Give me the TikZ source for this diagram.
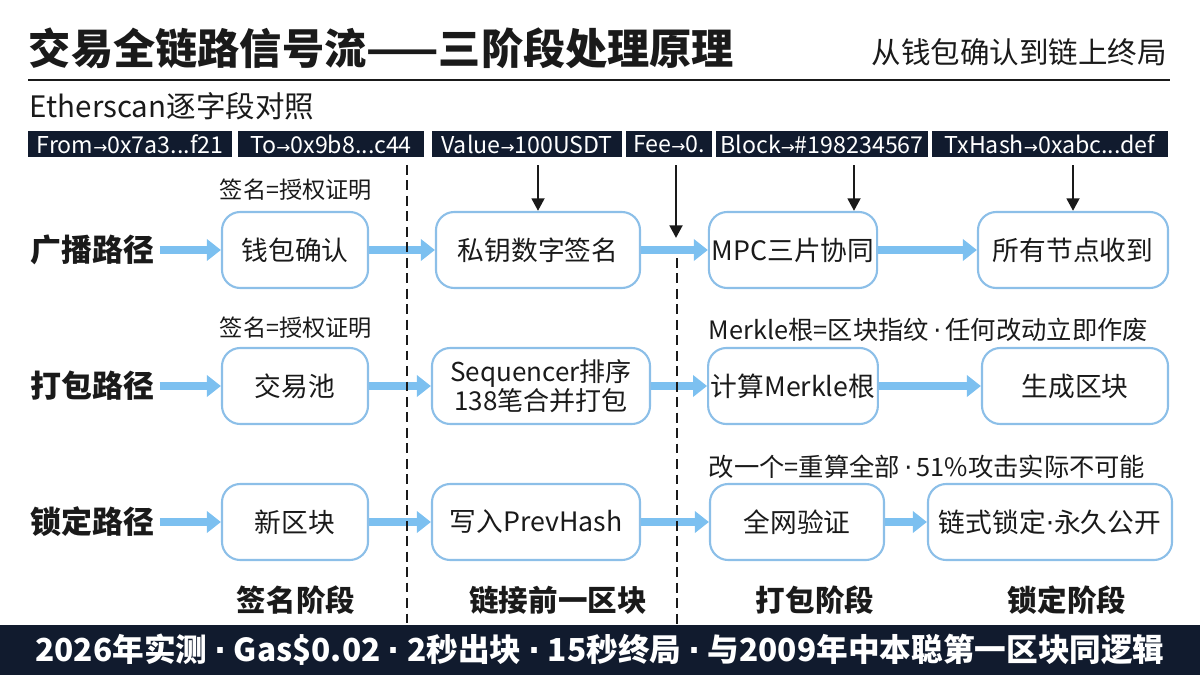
\documentclass[tikz,border=0pt]{standalone}
\usepackage{fontspec}
\setmainfont{Noto Sans CJK SC}
\newfontfamily\symfont{DejaVu Sans}
\usetikzlibrary{arrows.meta, positioning, calc}
\definecolor{cnavy}{HTML}{111B2E}
\definecolor{cline}{HTML}{8CBFE8}
\definecolor{cflow}{HTML}{7CC0F0}
\definecolor{cink}{HTML}{1A1A1A}
\newcommand{\ra}{{\symfont\fontsize{12}{14}\selectfont →}}
\newcommand{\md}{{\symfont ·}}
\tikzset{
  box/.style={draw=cline, fill=white, rounded corners=13pt, line width=1.5pt, align=center, minimum height=1.9cm, inner sep=2pt, font=\fontsize{19}{23}\selectfont, text=cink},
  tag/.style={fill=cnavy, text=white, minimum height=0.65cm, inner sep=0pt, font=\fontsize{16.5}{18}\selectfont},
  flow/.style={-{Triangle[length=10pt, width=15pt]}, draw=cflow, line width=5.5pt},
  down/.style={-{Triangle[length=9pt, width=9pt]}, draw=cink, line width=2pt},
  split/.style={draw=cink, line width=1.4pt, dash pattern=on 7pt off 4pt},
  rowlabel/.style={anchor=west, font=\fontsize{22}{26}\selectfont\bfseries, text=cink},
  stage/.style={font=\fontsize{21}{25}\selectfont\bfseries, text=cink},
  note/.style={font=\fontsize{16.5}{20}\selectfont, text=cink},
}
\begin{document}
\begin{tikzpicture}[x=0.025cm, y=-0.025cm]
  \useasboundingbox (0,0) rectangle (1200,675);
  % ---- heading ----
  \node[anchor=west, font=\fontsize{30}{34}\selectfont\bfseries, text=cink] (title) at (24,48) {交易全链路信号流——三阶段处理原理};
  \node[anchor=east, font=\fontsize{21}{25}\selectfont, text=cink] (subtitle) at (1172,52) {从钱包确认到链上终局};
  \draw[line width=1.8pt, cink] (28,80) -- (1170,80);
  \node[anchor=west, font=\fontsize{21}{25}\selectfont, text=cink] (scan) at (25,106) {Etherscan逐字段对照};
  % ---- etherscan fields ----
  \node[tag, minimum width=5.1cm] (tFrom) at (130,144) {From\ra0x7a3...f21};
  \node[tag, minimum width=4.65cm] (tTo) at (331,144) {To\ra0x9b8...c44};
  \node[tag, minimum width=4.75cm] (tValue) at (527,144) {Value\ra100USDT};
  \node[tag, minimum width=2.15cm] (tFee) at (669,144) {Fee\ra0.};
  \node[tag, minimum width=5.3cm] (tBlock) at (822,144) {Block\ra\#198234567};
  \node[tag, minimum width=5.9cm] (tTx) at (1050,144) {TxHash\ra0xabc...def};
  % ---- row 1: broadcast ----
  \node[rowlabel] (lab1) at (26,250) {广播路径};
  \node[box, minimum width=3.65cm] (r1b1) at (295,250) {钱包确认};
  \node[box, minimum width=5.1cm] (r1b2) at (538,250) {私钥数字签名};
  \node[box, minimum width=4.15cm] (r1b3) at (793,250) {MPC三片协同};
  \node[box, minimum width=4.75cm] (r1b4) at (1073,250) {所有节点收到};
  \node[note] (n1) at (296,190) {签名=授权证明};
  \draw[flow] (lab1) -- (r1b1); \draw[flow] (r1b1) -- (r1b2);
  \draw[flow] (r1b2) -- (r1b3); \draw[flow] (r1b3) -- (r1b4);
  % ---- row 2: packing ----
  \node[rowlabel] (lab2) at (26,386) {打包路径};
  \node[box, minimum width=3.65cm] (r2b1) at (295,386) {交易池};
  \node[box, minimum width=5.45cm, font=\fontsize{18.5}{21}\selectfont] (r2b2) at (541,386) {Sequencer排序\\138笔合并打包};
  \node[box, minimum width=4.15cm] (r2b3) at (793,386) {计算Merkle根};
  \node[box, minimum width=4.65cm] (r2b4) at (1075,386) {生成区块};
  \node[note] (n2) at (296,328) {签名=授权证明};
  \node[note, anchor=west, font=\fontsize{18}{20}\selectfont] (n3) at (704,330) {Merkle根=区块指纹\,\md\,任何改动立即作废};
  \draw[flow] (lab2) -- (r2b1); \draw[flow] (r2b1) -- (r2b2);
  \draw[flow] (r2b2) -- (r2b3); \draw[flow] (r2b3) -- (r2b4);
  % ---- row 3: locking ----
  \node[rowlabel] (lab3) at (26,522) {锁定路径};
  \node[box, minimum width=3.65cm] (r3b1) at (295,522) {新区块};
  \node[box, minimum width=5.2cm] (r3b2) at (536,522) {写入PrevHash};
  \node[box, minimum width=4.35cm] (r3b3) at (797,522) {全网验证};
  \node[box, minimum width=6.1cm] (r3b4) at (1050,522) {链式锁定\md 永久公开};
  \node[note, anchor=west, font=\fontsize{18}{20}\selectfont] (n4) at (704,467) {改一个=重算全部\,\md\,51\%攻击实际不可能};
  \draw[flow] (lab3) -- (r3b1); \draw[flow] (r3b1) -- (r3b2);
  \draw[flow] (r3b2) -- (r3b3); \draw[flow] (r3b3) -- (r3b4);
  % ---- field pointers ----
  \coordinate (feeTip) at (676,238);
  \coordinate (blockTip) at ($(r1b3.north)+(61,0)$);
  \draw[down] ($(tValue.south -| r1b2.north)+(0,8)$) -- (r1b2.north);
  \draw[down] ($(tFee.south -| feeTip)+(0,8)$) -- (feeTip);
  \draw[down] ($(tBlock.south -| blockTip)+(0,8)$) -- (blockTip);
  \draw[down] ($(tTx.south -| r1b4.north)+(0,8)$) -- (r1b4.north);
  % ---- stage separators ----
  \coordinate (sA1) at (407,165); \coordinate (sA2) at (407,625);
  \coordinate (sB1) at (677,258); \coordinate (sB2) at (677,625);
  \draw[split] (sA1) -- (sA2);
  \draw[split] (sB1) -- (sB2);
  \node[stage] (st1) at (296,600) {签名阶段};
  \node[stage] (st2) at (558,600) {链接前一区块};
  \node[stage] (st3) at (815,600) {打包阶段};
  \node[stage] (st4) at (1067,600) {锁定阶段};
  % ---- footer ----
  \fill[cnavy] (0,625) rectangle (1200,675);
  \node[font=\fontsize{22.5}{26}\selectfont\bfseries, text=white] (foot) at (600,650) {2026年实测 \md\ Gas\$0.02 \md\ 2秒出块 \md\ 15秒终局 \md\ 与2009年中本聪第一区块同逻辑};
\end{tikzpicture}
\end{document}
